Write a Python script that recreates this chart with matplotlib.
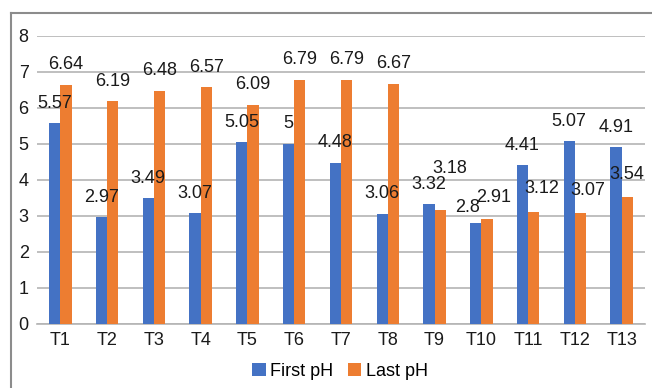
import numpy as np
import matplotlib
matplotlib.use("Agg")
import matplotlib.pyplot as plt
from matplotlib.lines import Line2D

# data
categories = ["T1", "T2", "T3", "T4", "T5", "T6", "T7", "T8", "T9", "T10", "T11", "T12", "T13"]
first_ph = [5.57, 2.97, 3.49, 3.07, 5.05, 5.0, 4.48, 3.06, 3.32, 2.8, 4.41, 5.07, 4.91]
last_ph = [6.64, 6.19, 6.48, 6.57, 6.09, 6.79, 6.79, 6.67, 3.18, 2.91, 3.12, 3.07, 3.54]
first_labels = ["5.57", "2.97", "3.49", "3.07", "5.05", "5", "4.48", "3.06", "3.32", "2.8", "4.41", "5.07", "4.91"]
last_labels = ["6.64", "6.19", "6.48", "6.57", "6.09", "6.79", "6.79", "6.67", "3.18", "2.91", "3.12", "3.07", "3.54"]

blue = "#4472C4"
orange = "#ED7D31"
grid_col = "#B4B4B4"
fs = 13

plt.rcParams["font.family"] = ["Liberation Sans", "DejaVu Sans"]

fig = plt.figure(figsize=(6.52, 3.88), dpi=100)
ax = fig.add_axes([37 / 652, 1 - 324 / 388, 608 / 652, 288 / 388])

x = np.arange(len(categories))
w = 0.24
ax.bar(x - w / 2, first_ph, w, color=blue, label="First pH", zorder=3)
ax.bar(x + w / 2, last_ph, w, color=orange, label="Last pH", zorder=3)

ax.set_xlim(-0.5, len(categories) - 0.5)
ax.set_ylim(0, 8)
ax.set_yticks(range(0, 9))
ax.set_xticks(x)
ax.set_xticklabels(categories)
ax.tick_params(length=0, labelsize=fs, colors="#1a1a1a")
ax.tick_params(axis="y", pad=6)
ax.tick_params(axis="x", pad=6)
ax.yaxis.grid(True, color=grid_col, linewidth=1.2, zorder=0)
for s in ["top", "right", "left"]:
    ax.spines[s].set_visible(False)
ax.spines["bottom"].set_color(grid_col)
ax.spines["bottom"].set_linewidth(1.2)

# label offsets in pixels (dx, dy above bar top)
first_off = [(0, 20)] * len(categories)
last_off = [(0, 20)] * len(categories)
first_off[9] = (-8, 16)
last_off[8] = (10, 41)
last_off[9] = (7, 22)
last_off[10] = (8, 23)
last_off[11] = (7, 23)
last_off[12] = (0, 22)

for i in range(len(categories)):
    ax.annotate(first_labels[i], (x[i] - w / 2, first_ph[i]), xytext=first_off[i],
                textcoords="offset pixels", ha="center", va="center", fontsize=fs,
                color="#1a1a1a", zorder=4)
    ax.annotate(last_labels[i], (x[i] + w / 2, last_ph[i]), xytext=last_off[i],
                textcoords="offset pixels", ha="center", va="center", fontsize=fs,
                color="#1a1a1a", zorder=4)

fig.legend(loc="center", bbox_to_anchor=(340 / 652, 1 - 371 / 388), ncol=2, frameon=False,
           fontsize=fs, handlelength=0.75, handleheight=0.75, handletextpad=0.25,
           columnspacing=0.8)

# outer chart border (left and top visible)
fig.add_artist(Line2D([11 / 652, 11 / 652], [0, 1 - 13 / 388], transform=fig.transFigure,
                      color="#8C8C8C", linewidth=1.5))
fig.add_artist(Line2D([11 / 652, 1], [1 - 13 / 388, 1 - 13 / 388], transform=fig.transFigure,
                      color="#8C8C8C", linewidth=1.5))

fig.savefig("out.png", dpi=100)
